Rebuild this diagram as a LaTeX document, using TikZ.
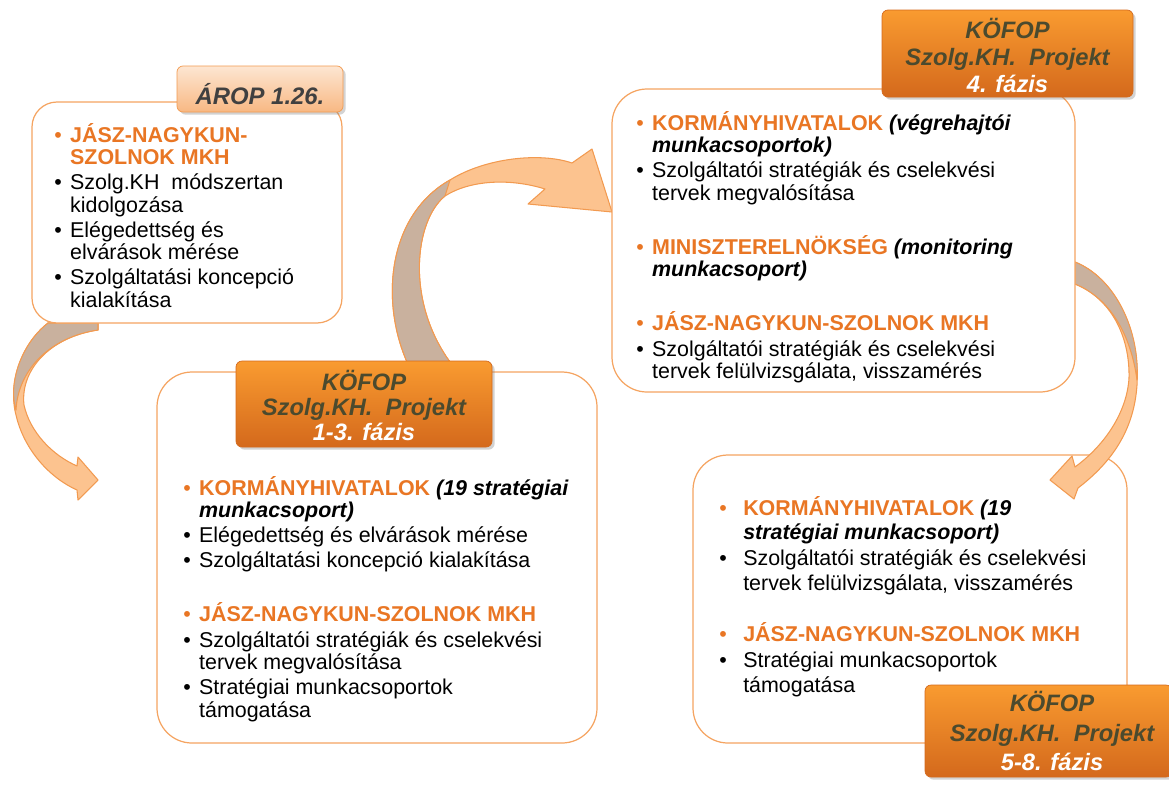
\documentclass[tikz,border=0pt]{standalone}
\usepackage{fontspec}
\setmainfont{Liberation Sans}
\usepackage{xcolor}
\usetikzlibrary{fit,shadows}
\definecolor{hdorange}{HTML}{E97624}
\definecolor{boxline}{HTML}{F5A461}
\definecolor{tagtop}{HTML}{F99B30}
\definecolor{tagbot}{HTML}{D4691C}
\definecolor{tagtext}{HTML}{4B4A2E}
\definecolor{aroptop}{HTML}{FDE6D2}
\definecolor{aropbot}{HTML}{F8B883}
\definecolor{arrfill}{HTML}{FCC38F}
\definecolor{arrline}{HTML}{F29A50}
\definecolor{arrback}{HTML}{C9B19E}
\newlength{\bind}
\newcommand*{\hd}[1]{\textcolor{hdorange}{\textbf{#1}}}
\newcommand*{\bi}[1]{\textbf{\textit{#1}}}
\newcommand*{\itm}[1][black]{\par\hangindent=\bind\hangafter=1\noindent\makebox[\bind][l]{\textcolor{#1}{\textbullet}}}
\newcommand*{\grp}[1]{\par\vspace{#1}}
\begin{document}
\begin{tikzpicture}[x=0.02cm,y=-0.02cm,
  box/.style={draw=boxline,line width=0.7pt,fill=white,rounded corners=0.7cm,inner sep=0pt},
  tag/.style={rounded corners=0.12cm,inner sep=0pt,top color=tagtop,bottom color=tagbot,draw=tagbot,line width=0.4pt,
    drop shadow={shadow xshift=1.5pt,shadow yshift=-1.5pt,opacity=0.35}},
  aroptag/.style={tag,top color=aroptop,bottom color=aropbot,draw=arrline},
  tagtxt/.style={align=center,inner sep=0pt,text=tagtext,font=\fontsize{13.5}{14.2}\selectfont\bfseries\itshape},
  txt/.style={anchor=base west,inner sep=0pt,font=\fontsize{12.2}{12.8}\selectfont},
  arr/.style={fill=arrfill,draw=arrline,line width=0.6pt,line join=round},
  arrbk/.style={fill=arrback,draw=arrline,line width=0.6pt,line join=round}]
\useasboundingbox (0,0) rectangle (1169,785);

\node[box,fit={(693,455) (1127,743)}] (fazisC) {};

% arrows
\coordinate (tipA) at (98,480);
\draw[arr] (48,323) .. controls (20,345) and (8,385) .. (16,415) .. controls (24,450) and (50,478) .. (77,490) -- (78,500) -- (tipA) -- (78,457) -- (77,466) .. controls (52,455) and (30,432) .. (24,405) .. controls (20,370) and (50,337) .. (98,330) -- (98,323) -- cycle;
\draw[arrbk] (48,323) .. controls (20,345) and (8,385) .. (16,410) .. controls (18,370) and (50,337) .. (98,330) -- (98,323) -- cycle;
\coordinate (tipB) at (612,212);
\draw[arr] (407,362) .. controls (380,300) and (388,215) .. (450,180) .. controls (485,158) and (540,152) .. (572,163) -- (592,149) -- (tipB) -- (528,204) -- (545,189) .. controls (510,178) and (470,180) .. (445,196) .. controls (415,220) and (405,300) .. (450,362) -- cycle;
\draw[arrbk] (407,362) .. controls (380,300) and (388,215) .. (450,180) -- (445,196) .. controls (415,220) and (405,300) .. (450,362) -- cycle;
\coordinate (tipC) at (1050,480);
\draw[arr] (1075,262) .. controls (1115,278) and (1140,330) .. (1137,385) .. controls (1134,430) and (1112,462) .. (1078,488) -- (1074,499) -- (tipC) -- (1072,456) -- (1075,467) .. controls (1105,445) and (1127,412) .. (1129,378) .. controls (1130,335) and (1110,298) .. (1075,284) -- cycle;
\draw[arrbk] (1075,262) .. controls (1115,278) and (1140,330) .. (1137,380) .. controls (1131,335) and (1110,298) .. (1075,284) -- cycle;

\node[box,rounded corners=0.5cm,fit={(32,102) (342,323)}] (arop) {};
\node[box,fit={(157,372) (597,743)}] (fazisA) {};
\node[box,fit={(612,89) (1075,392)}] (fazisB) {};

% tags
\node[aroptag,fit={(177,66) (343,112)}] (aropTag) {};
\node[tagtxt,text=black!75,font=\fontsize{13.6}{14}\selectfont\bfseries\itshape,yshift=-3pt] (aropTagTxt) at (aropTag.center) {ÁROP 1.26.};
\node[tag,fit={(236,361) (492,447)}] (tagA) {};
\node[tagtxt,yshift=-1pt] (tagATxt) at (tagA.center) {KÖFOP\\Szolg.KH.\ \ Projekt\\\textcolor{white}{1-3. fázis}};
\node[tag,fit={(882,10) (1133,97)}] (tagB) {};
\node[tagtxt,font=\fontsize{13.5}{15.3}\selectfont\bfseries\itshape,yshift=-1pt] (tagBTxt) at (tagB.center) {KÖFOP\\Szolg.KH.\ \ Projekt\\\textcolor{white}{4. fázis}};
\node[tag,fit={(925,685) (1172,777)}] (tagC) {};
\node[tagtxt,font=\fontsize{13.5}{16.7}\selectfont\bfseries\itshape,xshift=2pt] (tagCTxt) at (tagC.center) {KÖFOP\\Szolg.KH.\ \ Projekt\\\textcolor{white}{5-8. fázis}};

% texts
\node[txt] (aropTxt) at (54,142) {\parbox[t]{9cm}{\setlength{\bind}{9pt}\setlength{\parskip}{1.5pt}%
\itm[hdorange]\hd{JÁSZ-NAGYKUN-\\SZOLNOK MKH}
\itm Szolg.KH\ \ módszertan\\kidolgozása
\itm Elégedettség és\\elvárások mérése
\itm Szolgáltatási koncepció\\kialakítása}};
\node[txt] (fazisATxt) at (183,495) {\parbox[t]{9cm}{\setlength{\bind}{9pt}\setlength{\parskip}{1.5pt}%
\itm[hdorange]\hd{KORMÁNYHIVATALOK} \bi{(19 stratégiai\\munkacsoport)}
\itm Elégedettség és elvárások mérése
\itm Szolgáltatási koncepció kialakítása
\grp{15pt}
\itm[hdorange]\hd{JÁSZ-NAGYKUN-SZOLNOK MKH}
\itm Szolgáltatói stratégiák és cselekvési\\tervek megvalósítása
\itm Stratégiai munkacsoportok\\támogatása}};
\node[txt] (fazisBTxt) at (636,130) {\parbox[t]{9cm}{\setlength{\bind}{9pt}\setlength{\parskip}{1.5pt}%
\itm[hdorange]\hd{KORMÁNYHIVATALOK} \bi{(végrehajtói\\munkacsoportok)}
\itm Szolgáltatói stratégiák és cselekvési\\tervek megvalósítása
\grp{15pt}
\itm[hdorange]\hd{MINISZTERELNÖKSÉG} \bi{(monitoring\\munkacsoport)}
\grp{15pt}
\itm[hdorange]\hd{JÁSZ-NAGYKUN-SZOLNOK MKH}
\itm Szolgáltatói stratégiák és cselekvési\\tervek felülvizsgálata, visszamérés}};
\node[txt,font=\fontsize{12.2}{14}\selectfont] (fazisCTxt) at (719,515) {\parbox[t]{9cm}{\setlength{\bind}{13.6pt}\setlength{\parskip}{1pt}%
\itm[hdorange]\hd{KORMÁNYHIVATALOK} \bi{(19\\stratégiai munkacsoport)}
\itm Szolgáltatói stratégiák és cselekvési\\tervek felülvizsgálata, visszamérés
\grp{14pt}
\itm[hdorange]\hd{JÁSZ-NAGYKUN-SZOLNOK MKH}
\itm Stratégiai munkacsoportok\\támogatása}};
\end{tikzpicture}
\end{document}
